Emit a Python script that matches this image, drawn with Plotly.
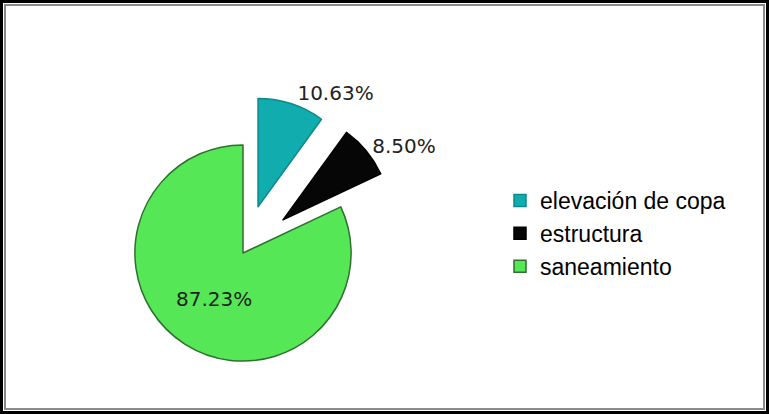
import plotly.graph_objects as go

# Data
categories = ["elevación de copa", "estructura", "saneamiento"]
values = [10.63, 8.50, 87.23]
slice_colors = ["#10acae", "#060606", "#55e755"]
slice_lines = ["#0e8a8c", "#000000", "#2f6f2f"]
pulls = [0.45, 0.48, 0.0]
text_positions = ["outside", "outside", "inside"]

W, H = 769, 414

fig = go.Figure(
    go.Pie(
        labels=categories,
        values=values,
        sort=False,
        direction="clockwise",
        rotation=0,
        pull=pulls,
        automargin=False,
        marker=dict(colors=slice_colors, line=dict(color=slice_lines, width=1.5)),
        texttemplate="%{value:.2f}%",
        textposition=text_positions,
        insidetextorientation="horizontal",
        textfont=dict(family="DejaVu Sans", size=20, color="#222222"),
        domain=dict(x=[83 / W, 403 / W], y=[1 / H, 321 / H]),
        hoverinfo="label+value",
    )
)

# Double frame around the chart area
shapes = [
    dict(type="rect", xref="paper", yref="paper",
         x0=1.5 / W, x1=1 - 1.5 / W, y0=1.5 / H, y1=1 - 1.5 / H,
         line=dict(color="#000000", width=3)),
    dict(type="rect", xref="paper", yref="paper",
         x0=5 / W, x1=1 - 5 / W, y0=5 / H, y1=1 - 5 / H,
         line=dict(color="#8a8a8a", width=2)),
]

fig.update_layout(
    width=W,
    height=H,
    margin=dict(l=0, r=0, t=0, b=0, autoexpand=False),
    paper_bgcolor="white",
    plot_bgcolor="white",
    shapes=shapes,
    showlegend=True,
    legend=dict(
        x=500 / W, xanchor="left",
        y=1 - 179 / H, yanchor="top",
        font=dict(family="Liberation Sans", size=23, color="#000000"),
        bgcolor="rgba(0,0,0,0)",
        itemwidth=30,
    ),
)

fig.write_html("out.html")
